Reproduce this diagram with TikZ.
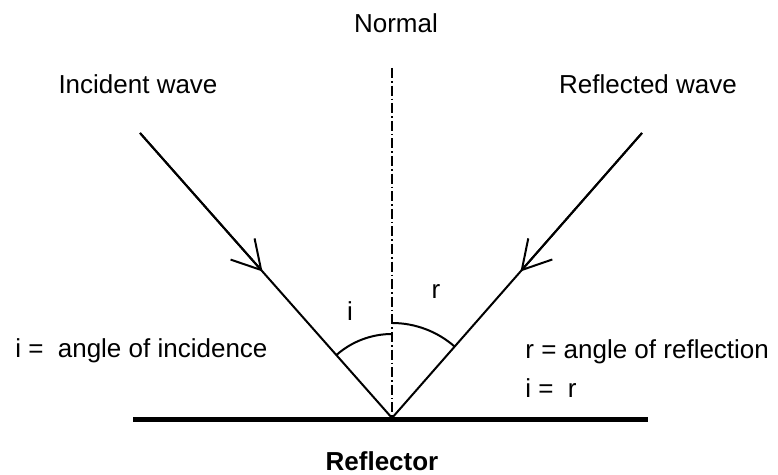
\documentclass[tikz,border=0pt]{standalone}
\usepackage{fontspec}
\setmainfont{Liberation Sans}
\usetikzlibrary{arrows.meta, positioning, calc}

\begin{document}
\begin{tikzpicture}[x=0.5pt,y=0.5pt,
		wave/.style={line width=1pt},
		barb/.style={line width=1pt, -{Straight Barb[length=14pt,width=16pt]}},
		angarc/.style={line width=1pt},
		lbl/.style={font=\fontsize{13}{15}\selectfont, inner sep=0pt}]
	\useasboundingbox (0,0) rectangle (778,475);

	% points of the rays
	\coordinate (O) at (392,57);
	\coordinate (inc) at (140,342);
	\coordinate (refl) at (642,342);
	\coordinate (ntop) at (392,407);
	\coordinate (rl) at (133,55.5);
	\coordinate (rr) at (648,55.5);

	% reflector and normal
	\draw[line width=2.8pt] (rl) -- (rr);
	\draw[line width=0.8pt, dash pattern=on 5pt off 1.5pt on 0.8pt off 1.5pt] (ntop) -- (O);

	% incident and reflected waves
	\draw[wave] (inc) -- (O) -- (refl);
	\draw[barb] (inc) -- ($(inc)!0.486!(O)$);
	\draw[barb] (refl) -- ($(refl)!0.486!(O)$);

	% angles
	\draw[angarc] ($(O)+(131.5:42pt)$) arc[start angle=131.5, end angle=90, radius=42pt];
	\draw[angarc] ($(O)+(90:47.5pt)$) arc[start angle=90, end angle=48.7, radius=47.5pt];
	\node[lbl] (ilbl) at (350,164) {i};
	\node[lbl] (rlbl) at (436,183) {r};

	% labels
	\node[lbl] (normal) at (396,452) {Normal};
	\node[lbl] (incw) at (138,391) {Incident wave};
	\node[lbl] (reflw) at (648,391) {Reflected wave};
	\node[lbl, anchor=base west] (idef) at (15,117) {i =\hspace{0.55em}angle of incidence};
	\node[lbl, anchor=base west] (rdef) at (525,116) {r = angle of reflection};
	\node[lbl, anchor=base west] (ieq) at (525,77) {i =\hspace{0.55em}r};
	\node[lbl, font=\fontsize{13}{15}\selectfont\bfseries, anchor=base] (reflector) at (382,4) {Reflector};
\end{tikzpicture}
\end{document}
